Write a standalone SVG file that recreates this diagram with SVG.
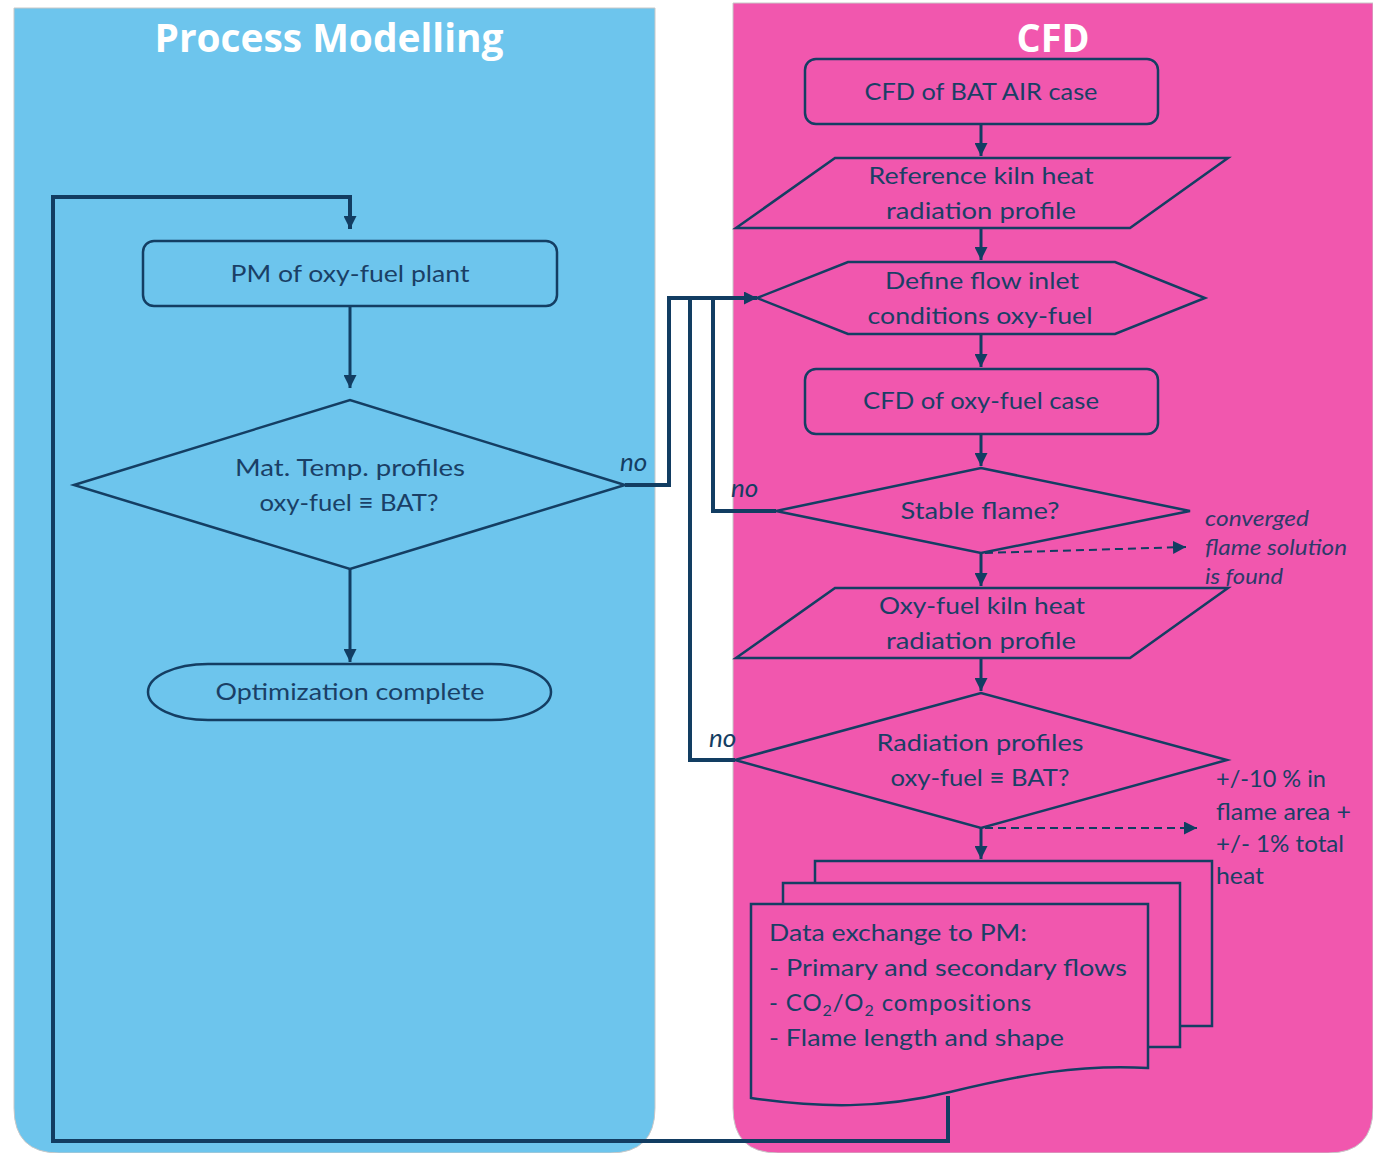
<svg xmlns="http://www.w3.org/2000/svg" width="1373" height="1153" viewBox="0 0 1373 1153">
<style>
.node{fill:none;stroke:#143E63;stroke-width:2.5;stroke-linejoin:miter}
.pk{fill:#F157AE}
.bl{fill:#6DC5ED}
.t{font-family:Lato,"Open Sans",sans-serif;font-size:24px;fill:#1A3F66;text-anchor:middle}
.tl{font-family:Lato,"Open Sans",sans-serif;font-size:24px;fill:#1A3F66}
.title{font-family:"Open Sans",Lato,sans-serif;font-size:40px;font-weight:bold;fill:#FFFFFF;text-anchor:middle}
.no{font-family:Lato,"Open Sans",sans-serif;font-size:26px;font-style:italic;fill:#143E63}
.ann{font-family:Lato,"Open Sans",sans-serif;font-size:22px;font-style:italic;fill:#2E3A6A}
.ann2{font-family:Lato,"Open Sans",sans-serif;font-size:23px;fill:#1A3F66}
.c{fill:none;stroke:#123D62;stroke-width:3}
.loop{fill:none;stroke:#123D62;stroke-width:4}
.d{fill:none;stroke:#123D62;stroke-width:2;stroke-dasharray:8 5}
</style>
<defs>
<marker id="ah" viewBox="0 0 10 10" refX="10" refY="5" markerWidth="13" markerHeight="13" markerUnits="userSpaceOnUse" orient="auto">
<path d="M0,0 L10,5 L0,10 z" fill="#123D62"/>
</marker>
</defs>
<rect width="1373" height="1153" fill="#FFFFFF"/>
<g id="panel-pm">
<path d="M14,8 H655 V1108 Q655,1153 610,1153 H59 Q14,1153 14,1108 Z" class="bl" stroke="#C8C8C8" stroke-width="1"/>
<text class="title" x="329" y="52" textLength="349" lengthAdjust="spacingAndGlyphs">Process Modelling</text>
</g>
<g id="panel-cfd">
<path d="M733,3 H1373 V1108 Q1373,1153 1328,1153 H778 Q733,1153 733,1108 Z" class="pk" stroke="#C8C8C8" stroke-width="1"/>
<text class="title" x="1053" y="52" textLength="73" lengthAdjust="spacingAndGlyphs">CFD</text>
</g>
<g id="connectors">
<path class="loop" d="M948,1096 V1141 H53 V197 H350 V229" marker-end="url(#ah)"/>
<path class="c" d="M350,306 V388" marker-end="url(#ah)"/>
<path class="c" d="M350,569 V662" marker-end="url(#ah)"/>
<path class="loop" d="M625,485 H669 V298 H757" marker-end="url(#ah)"/>
<path class="loop" d="M776,511 H713 V298"/>
<path class="loop" d="M735,760 H690 V298"/>
<path class="c" d="M981,124 V156" marker-end="url(#ah)"/>
<path class="c" d="M981,228 V260" marker-end="url(#ah)"/>
<path class="c" d="M981,334 V367" marker-end="url(#ah)"/>
<path class="c" d="M981,434 V466" marker-end="url(#ah)"/>
<path class="c" d="M981,553 V586" marker-end="url(#ah)"/>
<path class="c" d="M981,658 V691" marker-end="url(#ah)"/>
<path class="c" d="M981,828 V859" marker-end="url(#ah)"/>
<path class="d" d="M985,553 L1186,547" marker-end="url(#ah)"/>
<path class="d" d="M985,828 L1197,828" marker-end="url(#ah)"/>
<text class="no" x="620" y="471">no</text>
<text class="no" x="731" y="497">no</text>
<text class="no" x="709" y="747">no</text>
</g>
<g id="pm-plant">
<rect x="143" y="241" width="414" height="65" rx="11" class="node"/>
<text class="t" x="350" y="282" textLength="239" lengthAdjust="spacingAndGlyphs">PM of oxy-fuel plant</text>
</g>
<g id="mat-temp">
<path d="M74,485 L350,400 L625,485 L350,569 Z" class="node"/>
<text class="t" x="350" y="476" textLength="230" lengthAdjust="spacingAndGlyphs">Mat. Temp. profiles</text>
<text class="t" x="349" y="511" textLength="179" lengthAdjust="spacingAndGlyphs">oxy-fuel ≡ BAT?</text>
</g>
<g id="opt-complete">
<rect x="148" y="664" width="403" height="56" rx="60" ry="28" class="node"/>
<text class="t" x="350" y="700" textLength="269" lengthAdjust="spacingAndGlyphs">Optimization complete</text>
</g>
<g id="cfd-bat">
<rect x="805" y="59" width="353" height="65" rx="11" class="node"/>
<text class="t" x="981" y="100" textLength="233" lengthAdjust="spacingAndGlyphs">CFD of BAT AIR case</text>
</g>
<g id="ref-profile">
<path d="M835,158 H1228 L1130,228 H736 Z" class="node"/>
<text class="t" x="981" y="184" textLength="225" lengthAdjust="spacingAndGlyphs">Reference kiln heat</text>
<text class="t" x="981" y="219" textLength="190" lengthAdjust="spacingAndGlyphs">radiation profile</text>
</g>
<g id="define-inlet">
<path d="M757,298 L848,262 H1115 L1205,298 L1115,334 H848 Z" class="node"/>
<text class="t" x="982" y="289" textLength="194" lengthAdjust="spacingAndGlyphs">Define flow inlet</text>
<text class="t" x="980" y="324" textLength="225" lengthAdjust="spacingAndGlyphs">conditions oxy-fuel</text>
</g>
<g id="cfd-oxy">
<rect x="805" y="369" width="353" height="65" rx="11" class="node"/>
<text class="t" x="981" y="409" textLength="236" lengthAdjust="spacingAndGlyphs">CFD of oxy-fuel case</text>
</g>
<g id="stable-flame">
<path d="M776,511 L981,468 L1190,511 L981,553 Z" class="node"/>
<text class="t" x="980" y="519" textLength="159" lengthAdjust="spacingAndGlyphs">Stable flame?</text>
<text class="ann" x="1205" y="526" textLength="104" lengthAdjust="spacingAndGlyphs">converged</text>
<text class="ann" x="1205" y="555" textLength="142" lengthAdjust="spacingAndGlyphs">flame solution</text>
<text class="ann" x="1205" y="584" textLength="78" lengthAdjust="spacingAndGlyphs">is found</text>
</g>
<g id="oxy-profile">
<path d="M835,588 H1228 L1130,658 H736 Z" class="node"/>
<text class="t" x="982" y="614" textLength="206" lengthAdjust="spacingAndGlyphs">Oxy-fuel kiln heat</text>
<text class="t" x="981" y="649" textLength="190" lengthAdjust="spacingAndGlyphs">radiation profile</text>
</g>
<g id="rad-compare">
<path d="M735,760 L981,693 L1227,760 L981,828 Z" class="node"/>
<text class="t" x="980" y="751" textLength="207" lengthAdjust="spacingAndGlyphs">Radiation profiles</text>
<text class="t" x="980" y="786" textLength="179" lengthAdjust="spacingAndGlyphs">oxy-fuel ≡ BAT?</text>
<text class="ann2" x="1216" y="787" textLength="110" lengthAdjust="spacingAndGlyphs">+/-10 % in</text>
<text class="ann2" x="1216" y="820" textLength="135" lengthAdjust="spacingAndGlyphs">flame area +</text>
<text class="ann2" x="1216" y="852" textLength="128" lengthAdjust="spacingAndGlyphs">+/- 1% total</text>
<text class="ann2" x="1216" y="884" textLength="48" lengthAdjust="spacingAndGlyphs">heat</text>
</g>
<g id="data-exchange">
<rect x="815" y="861" width="397" height="165" class="node pk"/>
<rect x="783" y="883" width="397" height="164" class="node pk"/>
<path d="M751,904 H1148 V1068 C1080,1064 1020,1075 950,1092 C880,1109 820,1108 751,1098 Z" class="node pk"/>
<text class="tl" x="769" y="941" textLength="258" lengthAdjust="spacingAndGlyphs">Data exchange to PM:</text>
<text class="tl" x="769" y="976" textLength="358" lengthAdjust="spacingAndGlyphs">- Primary and secondary flows</text>
<text class="tl" x="769" y="1011" letter-spacing="0.9">- CO<tspan font-size="16" dy="5">2</tspan><tspan dy="-5">/O</tspan><tspan font-size="16" dy="5">2</tspan><tspan dy="-5"> compositions</tspan></text>
<text class="tl" x="769" y="1046" textLength="295" lengthAdjust="spacingAndGlyphs">- Flame length and shape</text>
</g>
</svg>
